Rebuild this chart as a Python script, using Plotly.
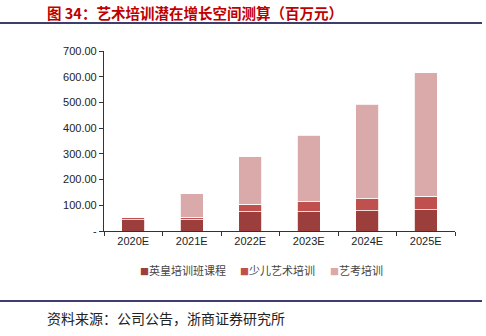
import plotly.graph_objects as go

categories = ["2020E", "2021E", "2022E", "2023E", "2024E", "2025E"]
s1_name = "英皇培训班课程"
s2_name = "少儿艺术培训"
s3_name = "艺考培训"
s1 = [44, 44, 75, 75, 79, 82]
s2 = [8, 9, 30, 38, 47, 54]
s3 = [1, 91, 183, 259, 366, 479]
ytick_vals = [0, 100, 200, 300, 400, 500, 600, 700]
ytick_text = ["-", "100.00", "200.00", "300.00", "400.00", "500.00", "600.00", "700.00"]

colors = ["#9C3F3C", "#C0504D", "#DAAAAA"]
series = [(s1_name, s1, colors[0]), (s2_name, s2, colors[1]), (s3_name, s3, colors[2])]

fig = go.Figure()
for name, vals, c in series:
    fig.add_trace(go.Bar(x=categories, y=vals, name=name, showlegend=False,
                         marker=dict(color=c, line=dict(width=0.8, color="white"))))

L, R, T, B = 104, 31, 51, 105
W, H = 486, 336
pw, ph = W - L - R, H - T - B

def px(x):
    return (x - L) / pw

def py(y):
    return (H - B - y) / ph

legend_x = [138, 238, 328]
legend_ann = []
for (name, vals, c), lx in zip(series, legend_x):
    legend_ann.append(dict(
        xref="paper", yref="paper", x=px(lx), y=py(270), xanchor="left", yanchor="middle",
        text=f"<span style='color:{c};font-size:9px'>■</span>{name}", showarrow=False,
        font=dict(family="Noto Sans CJK SC", size=11, color="#444")))

fig.update_layout(
    width=W, height=H,
    barmode="stack", bargap=0.6,
    margin=dict(l=L, r=R, t=T, b=B),
    plot_bgcolor="white", paper_bgcolor="white",
    font=dict(family="Liberation Sans, Arial", size=11, color="#222"),
    showlegend=False,
    xaxis=dict(showline=True, linecolor="#333", linewidth=1.2, ticks="outside", ticklen=4,
               tickcolor="#333", tickson="boundaries", tickfont=dict(size=11, color="#222")),
    yaxis=dict(range=[0, 700], tickvals=ytick_vals, ticktext=ytick_text, showline=True,
               linecolor="#333", linewidth=1.2, ticks="outside", ticklen=4, tickcolor="#333",
               showgrid=False, zeroline=False, tickfont=dict(size=11, color="#222")),
    shapes=[
        dict(type="line", xref="paper", yref="paper", x0=px(0), x1=px(482), y0=py(23), y1=py(23),
             line=dict(color="#3C3F6E", width=2)),
        dict(type="line", xref="paper", yref="paper", x0=px(0), x1=px(482), y0=py(301), y1=py(301),
             line=dict(color="#3C3F6E", width=2)),
    ],
    annotations=[
        dict(xref="paper", yref="paper", x=px(45), y=py(12), xanchor="left", yanchor="middle",
             text="<b>图 34：艺术培训潜在增长空间测算（百万元）</b>", showarrow=False,
             font=dict(family="Noto Sans CJK SC", size=14.5, color="#C00000")),
        dict(xref="paper", yref="paper", x=px(45), y=py(318), xanchor="left", yanchor="middle",
             text="资料来源：公司公告，浙商证券研究所", showarrow=False,
             font=dict(family="Noto Sans CJK SC", size=14, color="#222")),
    ] + legend_ann,
)

fig.write_html("out.html")
